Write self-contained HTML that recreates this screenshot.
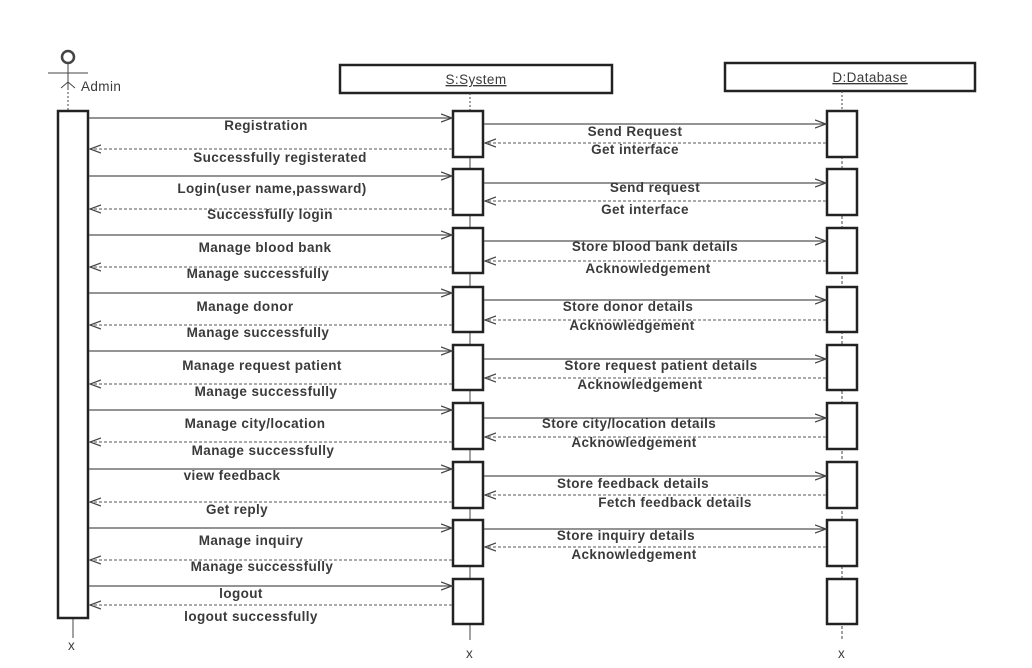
<!DOCTYPE html>
<html><head><meta charset="utf-8"><style>
html,body{margin:0;padding:0;background:#fff;}
svg text{font-family:"Liberation Sans",sans-serif;font-size:13.5px;font-weight:bold;fill:#3a3a3a;letter-spacing:0.4px;}
</style></head><body>
<svg width="1032" height="663" viewBox="0 0 1032 663" xmlns="http://www.w3.org/2000/svg">
<defs>
<marker id="a" markerWidth="12" markerHeight="10" refX="11" refY="5" orient="auto" markerUnits="userSpaceOnUse"><path d="M0,1 L11,5 L0,9" fill="none" stroke="#444" stroke-width="1.2"/></marker>
</defs>
<g stroke="#444" fill="none">
<circle cx="68" cy="57" r="6" stroke-width="2.5"/>
<line x1="68" y1="63" x2="68" y2="88" stroke-width="1"/>
<line x1="48" y1="73" x2="88" y2="73" stroke-width="1"/>
<path d="M61,88 L68,82 L75,88" stroke-width="1"/>
<line x1="68" y1="88" x2="68" y2="111" stroke-dasharray="2,2"/>
<rect x="340" y="65" width="272" height="28" stroke="#222" stroke-width="2.5"/>
<rect x="725" y="63" width="250" height="28" stroke="#222" stroke-width="2.5"/>
<line x1="470" y1="93" x2="470" y2="111" stroke-dasharray="2,2"/>
<line x1="842" y1="91" x2="842" y2="111" stroke-dasharray="2,2"/>
<line x1="470" y1="111" x2="470" y2="640"/>
<line x1="842" y1="111" x2="842" y2="640" stroke-dasharray="3,2"/>
<line x1="73" y1="618" x2="73" y2="638"/>
<rect x="58" y="111" width="30" height="507" fill="#fff" stroke="#222" stroke-width="2.5"/>
</g>
<text x="81" y="91" style="font-weight:normal">Admin</text>
<text x="476" y="84" text-anchor="middle" text-decoration="underline" style="font-weight:normal">S:System</text>
<text x="870" y="82" text-anchor="middle" text-decoration="underline" style="font-weight:normal">D:Database</text>
<text x="68" y="650" style="font-weight:normal">x</text>
<text x="466" y="658" style="font-weight:normal">x</text>
<text x="838" y="658" style="font-weight:normal">x</text>
<g stroke="#222" stroke-width="2.5" fill="#fff">
<rect x="453" y="111" width="30" height="46"/><rect x="453" y="169" width="30" height="46"/>
<rect x="453" y="228" width="30" height="45"/><rect x="453" y="287" width="30" height="45"/>
<rect x="453" y="345" width="30" height="45"/><rect x="453" y="403" width="30" height="46"/>
<rect x="453" y="462" width="30" height="46"/><rect x="453" y="520" width="30" height="46"/>
<rect x="453" y="579" width="30" height="45"/>
<rect x="827" y="111" width="30" height="46"/><rect x="827" y="169" width="30" height="46"/>
<rect x="827" y="228" width="30" height="45"/><rect x="827" y="287" width="30" height="45"/>
<rect x="827" y="345" width="30" height="45"/><rect x="827" y="403" width="30" height="46"/>
<rect x="827" y="462" width="30" height="46"/><rect x="827" y="520" width="30" height="46"/>
<rect x="827" y="579" width="30" height="45"/>
</g>
<g stroke="#555" stroke-width="1.2" fill="none" marker-end="url(#a)">
<line x1="89" y1="118" x2="452" y2="118"/><line x1="89" y1="176" x2="452" y2="176"/>
<line x1="89" y1="235" x2="452" y2="235"/><line x1="89" y1="293" x2="452" y2="293"/>
<line x1="89" y1="351" x2="452" y2="351"/><line x1="89" y1="410" x2="452" y2="410"/>
<line x1="89" y1="469" x2="452" y2="469"/><line x1="89" y1="528" x2="452" y2="528"/>
<line x1="89" y1="586" x2="452" y2="586"/>
<line x1="484" y1="124" x2="826" y2="124"/><line x1="484" y1="183" x2="826" y2="183"/>
<line x1="484" y1="241" x2="826" y2="241"/><line x1="484" y1="300" x2="826" y2="300"/>
<line x1="484" y1="359" x2="826" y2="359"/><line x1="484" y1="418" x2="826" y2="418"/>
<line x1="484" y1="476" x2="826" y2="476"/><line x1="484" y1="529" x2="826" y2="529"/>
</g>
<g stroke="#777" stroke-width="1.2" fill="none" stroke-dasharray="3,2" marker-end="url(#a)">
<line x1="452" y1="149" x2="90" y2="149"/><line x1="452" y1="209" x2="90" y2="209"/>
<line x1="452" y1="267" x2="90" y2="267"/><line x1="452" y1="325" x2="90" y2="325"/>
<line x1="452" y1="384" x2="90" y2="384"/><line x1="452" y1="442" x2="90" y2="442"/>
<line x1="452" y1="502" x2="90" y2="502"/><line x1="452" y1="560" x2="90" y2="560"/>
<line x1="452" y1="605" x2="90" y2="605"/>
<line x1="826" y1="143" x2="485" y2="143"/><line x1="826" y1="201" x2="485" y2="201"/>
<line x1="826" y1="261" x2="485" y2="261"/><line x1="826" y1="320" x2="485" y2="320"/>
<line x1="826" y1="378" x2="485" y2="378"/><line x1="826" y1="437" x2="485" y2="437"/>
<line x1="826" y1="495" x2="485" y2="495"/><line x1="826" y1="547" x2="485" y2="547"/>
</g>
<g text-anchor="middle">
<text x="266" y="130">Registration</text>
<text x="280" y="162">Successfully registerated</text>
<text x="272" y="193">Login(user name,passward)</text>
<text x="270" y="219">Successfully login</text>
<text x="265" y="252">Manage blood bank</text>
<text x="258" y="278">Manage successfully</text>
<text x="245" y="311">Manage donor</text>
<text x="258" y="337">Manage successfully</text>
<text x="262" y="370">Manage request patient</text>
<text x="266" y="396">Manage successfully</text>
<text x="255" y="428">Manage city/location</text>
<text x="263" y="455">Manage successfully</text>
<text x="232" y="480">view feedback</text>
<text x="237" y="514">Get reply</text>
<text x="251" y="545">Manage inquiry</text>
<text x="262" y="571">Manage successfully</text>
<text x="241" y="598">logout</text>
<text x="251" y="621">logout successfully</text>
<text x="635" y="136">Send Request</text>
<text x="635" y="154">Get interface</text>
<text x="655" y="192">Send request</text>
<text x="645" y="214">Get interface</text>
<text x="655" y="251">Store blood bank details</text>
<text x="648" y="273">Acknowledgement</text>
<text x="628" y="311">Store donor details</text>
<text x="632" y="330">Acknowledgement</text>
<text x="661" y="370">Store request patient details</text>
<text x="640" y="389">Acknowledgement</text>
<text x="629" y="428">Store city/location details</text>
<text x="634" y="447">Acknowledgement</text>
<text x="633" y="488">Store feedback details</text>
<text x="675" y="507">Fetch feedback details</text>
<text x="626" y="540">Store inquiry details</text>
<text x="634" y="559">Acknowledgement</text>
</g>
</svg>
</body></html>
